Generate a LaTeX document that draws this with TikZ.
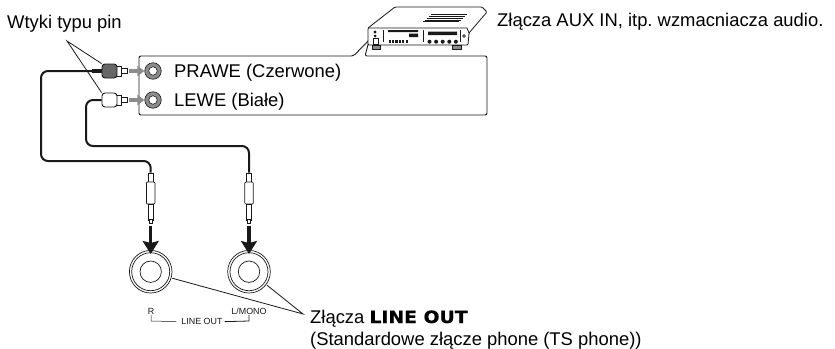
\documentclass[tikz,border=0pt]{standalone}
\usepackage{fontspec}
\setmainfont{Liberation Sans}
\newfontfamily\keyfont[Scale=0.92,FakeStretch=1.11,FakeBold=0.6]{DejaVu Sans Bold}
\usepackage{xcolor}
\usetikzlibrary{arrows.meta,calc,positioning}
\definecolor{audioink}{gray}{0.1}
\definecolor{audiomute}{gray}{0.55}
\definecolor{audioplug}{gray}{0.4}

\begin{document}
\begin{tikzpicture}[x=1pt,y=-1pt,
  label/.style={anchor=base west,inner sep=0pt,font=\fontsize{18.4}{21}\selectfont,text=black},
  tiny/.style={inner sep=0pt,font=\fontsize{8.9}{10}\selectfont,text=audioink},
  thin line/.style={draw=audioink,line width=.8pt},
  cable/.style={draw=audioink,line width=2pt,rounded corners=7pt},
  part/.style={draw=audioink,line width=.7pt,fill=white,inner sep=0pt,rectangle},
  hole/.style={circle,draw=audioink,line width=.6pt,inner sep=0pt},
  ring/.style={circle,draw=audioink,line width=.7pt,fill=white,inner sep=0pt},
  feed/.style={-{Triangle[length=7pt,width=10pt]},draw=audiomute,line width=4pt},
  push/.style={-{Stealth[length=13pt,width=16pt,inset=2pt]},draw=audioink,line width=3.4pt}]
\useasboundingbox (0,0) rectangle (835,348);
% panel with its pointer to the amplifier
\draw[draw=audioink,line width=.9pt,rounded corners=2pt] (372,37) -- (353.5,56) -- (139,56) -- (139,115) -- (487,115) -- (487,56) -- (365,56) -- (368.5,43);
% amplifier
\draw[draw=audioink,line width=.8pt,fill=white,rounded corners=1pt] (368,28) -- (395,7) -- (482,7) -- (487,12) -- (469,33) -- (468,45) -- (368,45) -- cycle;
\draw[thin line] (368,28) -- (467,28) -- (469,33);
\draw[thin line,fill=audiomute] (372,45) rectangle (380,49.5);
\draw[thin line,fill=audiomute] (452,45) rectangle (461,49.5);
\foreach \i in {0,...,4}
  \draw[draw=audioink,line width=.35pt] ({431-\i*2},{14+\i*1.9}) -- ({467-\i*2},{14+\i*1.9});
\fill[audioink] (375,32) circle (1.7pt) (375,36) circle (1.5pt);
\draw[thin line] (373.2,38.5) rectangle (378,44);
\foreach \x in {383,423,460}
  \draw[thin line] (\x,30) -- (\x,42);
\fill[audioink] (388,30.2) rectangle (418,32) (409,33.5) rectangle (418,37) (428,31.5) rectangle (457,35);
\foreach \i in {0,...,5}
  \fill[audioink] ({388.5+\i*3.4},39.5) rectangle ({390.8+\i*3.4},43);
\foreach \i in {0,...,4}
  \fill[audioink] ({429.5+\i*6.6},41.7) circle (2pt);
\draw[draw=audioink,line width=.6pt] (464,36) circle (1.4pt);
% RCA plugs and sockets
\foreach \name/\y/\col in {R/71/audioplug,L/100/white} {
  \node[hole,fill=audiomute,minimum size=16.5pt] (hole\name) at (153,\y) {};
  \node[hole,fill=white,minimum size=8.5pt] at (hole\name) {};
  \node[part,minimum width=7pt,minimum height=5pt] (tip\name) at (123.5,\y) {};
  \node[part,minimum width=5pt,minimum height=10pt] (neck\name) at (118.5,\y) {};
  \node[part,fill=\col,rounded corners=3pt,minimum width=15pt,minimum height=14pt,line width=.9pt] (plug\name) at (109.5,\y) {};
  \draw[feed] (tip\name.east) ++(2,0) -- (hole\name.west);
}
% phone plugs and jacks
\foreach \name/\x in {R/150.7,L/249} {
  \node[part,minimum width=4.5pt,minimum height=9pt] (collar\name) at (\x,177.5) {};
  \node[part,minimum width=8.5pt,minimum height=22pt,rounded corners=1pt] (sleeve\name) at (\x,193) {};
  \node[part,minimum width=5pt,minimum height=16pt] (shaft\name) at (\x,212) {};
  \node[part,minimum width=3.6pt,minimum height=3.5pt] (end\name) at (\x,221.5) {};
  \node[ring,minimum size=42.6pt] (jack\name) at (\x,271.7) {};
  \node[ring,minimum size=38pt] at (jack\name) {};
  \node[ring,minimum size=21.4pt] at (jack\name) {};
  \coordinate (drop\name) at (\x,226);
  \draw[push] (drop\name) -- (\x,254);
}
% cables
\draw[cable] (plugR.west) -- (41,71) -- (41,161) -- (150.7,161) -- (collarR.north);
\draw[cable] (plugL.west) -- (86,100) -- (86,146) -- (249,146) -- (collarL.north);
\draw[draw=audioink,line width=3.6pt] (92,71) -- (plugR.west);
% labels
\node[label] (pins) at (7,28) {Wtyki typu pin};
\node[label] (right) at (174,77) {PRAWE (Czerwone)};
\node[label] (left) at (174,106) {LEWE (Białe)};
\node[label] (aux) at (497,27) {Złącza AUX IN, itp.\ wzmacniacza audio.};
\node[label] (out) at (310,323) {Złącza {\keyfont LINE OUT}};
\node[label] (phone) at (310,345) {(Standardowe złącze phone (TS phone))};
\node[tiny] (markR) at (151,311.5) {R};
\node[tiny] (markL) at (249,311.5) {L/MONO};
\node[tiny] (markout) at (202,321.7) {LINE OUT};
% leaders
\coordinate (pintop) at (67,41);
\coordinate (outtop) at (303,314);
\draw[thin line] (plugR.north west) -- (pintop) -- (plugL.north west);
\draw[thin line] (jackR) ++(21.5,6.5) -- (outtop) -- ($(jackL)+(18,13.5)$);
\draw[draw=audioink,line width=.5pt,shorten >=5pt] (markR.south) -- (151,321) -- (markout.west);
\draw[draw=audioink,line width=.8pt,shorten <=2pt] (markout.east) -- (249,321) -- (markL.south);
\end{tikzpicture}
\end{document}
